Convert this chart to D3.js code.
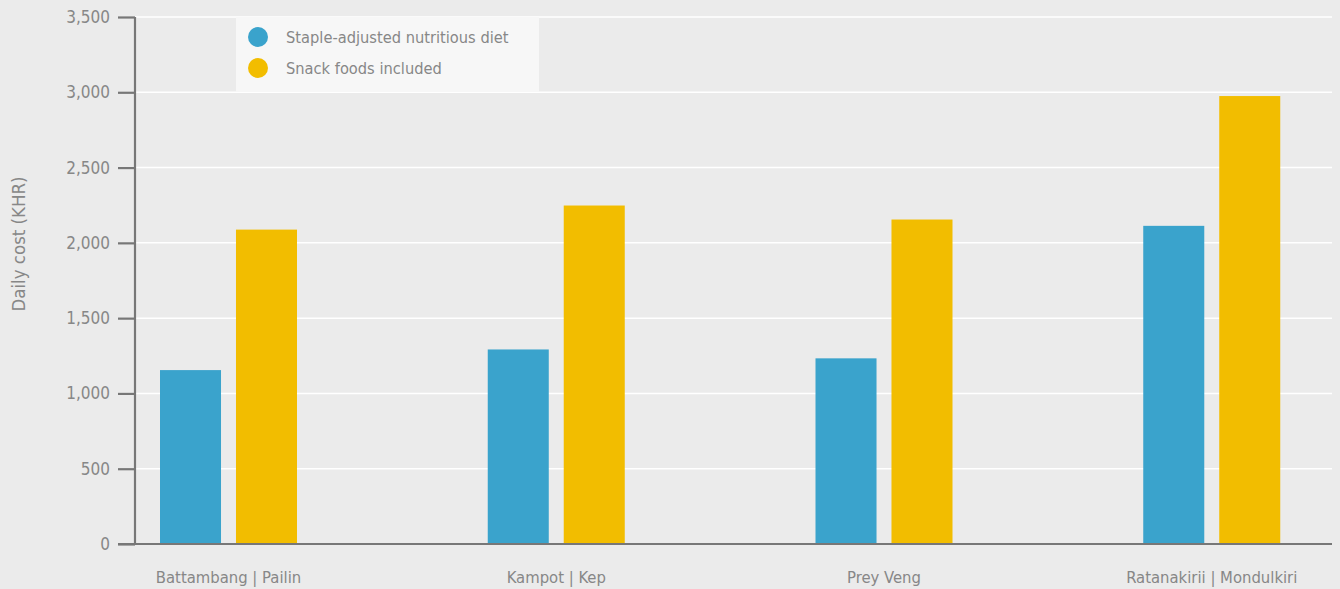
<!DOCTYPE html>
<html><head><meta charset="utf-8">
<script src="https://cdn.jsdelivr.net/npm/d3@7"></script>
<style>
html,body{margin:0;padding:0;background:#ebebeb;}
svg{display:block;}
text{font-family:"DejaVu Sans Condensed","Liberation Sans Narrow",sans-serif;fill:#878787;}
</style></head>
<body>
<svg id="chart" width="1340" height="589"></svg>
<script>
const categories = ["Battambang | Pailin", "Kampot | Kep", "Prey Veng", "Ratanakirii | Mondulkiri"];
const seriesNames = ["Staple-adjusted nutritious diet", "Snack foods included"];
const stapleValues = [1155, 1292, 1233, 2113];
const snackValues = [2088, 2248, 2155, 2975];
const yTicks = [0, 500, 1000, 1500, 2000, 2500, 3000, 3500];
const colors = ["#3aa3cc", "#f2bd00"];

(function () {
const W = 1340, H = 589;
const mLeft = 135, mRight = 1332, mTop = 17, mBottom = 544;
const svg = d3.select("#chart");
svg.append("rect").attr("width", W).attr("height", H).attr("fill", "#ebebeb");

const y = d3.scaleLinear().domain([0, 3500]).range([mBottom, mTop]);
const x0 = d3.scaleBand().domain(categories).range([160, 1471]).padding(0);
const x1 = d3.scaleBand().domain(seriesNames).range([0, 137]).paddingInner(0.197).paddingOuter(0);

// gridlines
svg.append("g").selectAll("line").data(yTicks.filter(d => d > 0)).join("line")
  .attr("x1", mLeft).attr("x2", mRight)
  .attr("y1", d => y(d)).attr("y2", d => y(d))
  .attr("stroke", "#ffffff").attr("stroke-width", 1.5);

// legend box
const lg = svg.append("g");
lg.append("rect").attr("x", 236).attr("y", 17).attr("width", 303).attr("height", 75).attr("fill", "#f7f7f7");
seriesNames.forEach((s, i) => {
  lg.append("circle").attr("cx", 258).attr("cy", 37 + i * 31).attr("r", 10).attr("fill", colors[i]);
  lg.append("text").attr("x", 286).attr("y", 37 + i * 31).attr("dy", "0.35em")
    .style("font-size", "16.3px").text(s);
});

// bars
const data = categories.map((c, i) => ({cat: c, vals: [stapleValues[i], snackValues[i]]}));
const groups = svg.append("g").selectAll("g").data(data).join("g")
  .attr("transform", d => `translate(${x0(d.cat)},0)`);
groups.selectAll("rect").data(d => d.vals.map((v, j) => ({s: seriesNames[j], v, j}))).join("rect")
  .attr("x", d => x1(d.s)).attr("width", x1.bandwidth())
  .attr("y", d => y(d.v)).attr("height", d => y(0) - y(d.v))
  .attr("fill", d => colors[d.j]);

// y axis
const yAxis = d3.axisLeft(y).tickValues(yTicks).tickFormat(d3.format(",")).tickSize(17).tickPadding(8);
const ya = svg.append("g").attr("transform", `translate(${mLeft},0)`).call(yAxis);
ya.attr("font-family", null).attr("font-size", null);
ya.select(".domain").attr("stroke", "#777").attr("stroke-width", 2.2).attr("d", `M0,${mTop}V${mBottom}`);
ya.selectAll(".tick line").attr("stroke", "#777").attr("stroke-width", 2.2);
ya.selectAll(".tick text").style("font-size", "17px").attr("fill", "#878787");

// baseline
svg.append("line").attr("x1", mLeft - 17).attr("x2", mRight).attr("y1", y(0)).attr("y2", y(0))
  .attr("stroke", "#777").attr("stroke-width", 2.2);

// x labels
svg.append("g").selectAll("text").data(categories).join("text")
  .attr("x", d => x0(d) + 68.5).attr("y", 583)
  .attr("text-anchor", "middle").style("font-size", "16.5px").text(d => d);

// y title
svg.append("text").attr("transform", `translate(25,${244}) rotate(-90)`)
  .attr("text-anchor", "middle").style("font-size", "18.5px").text("Daily cost (KHR)");
})();
</script>
</body></html>
